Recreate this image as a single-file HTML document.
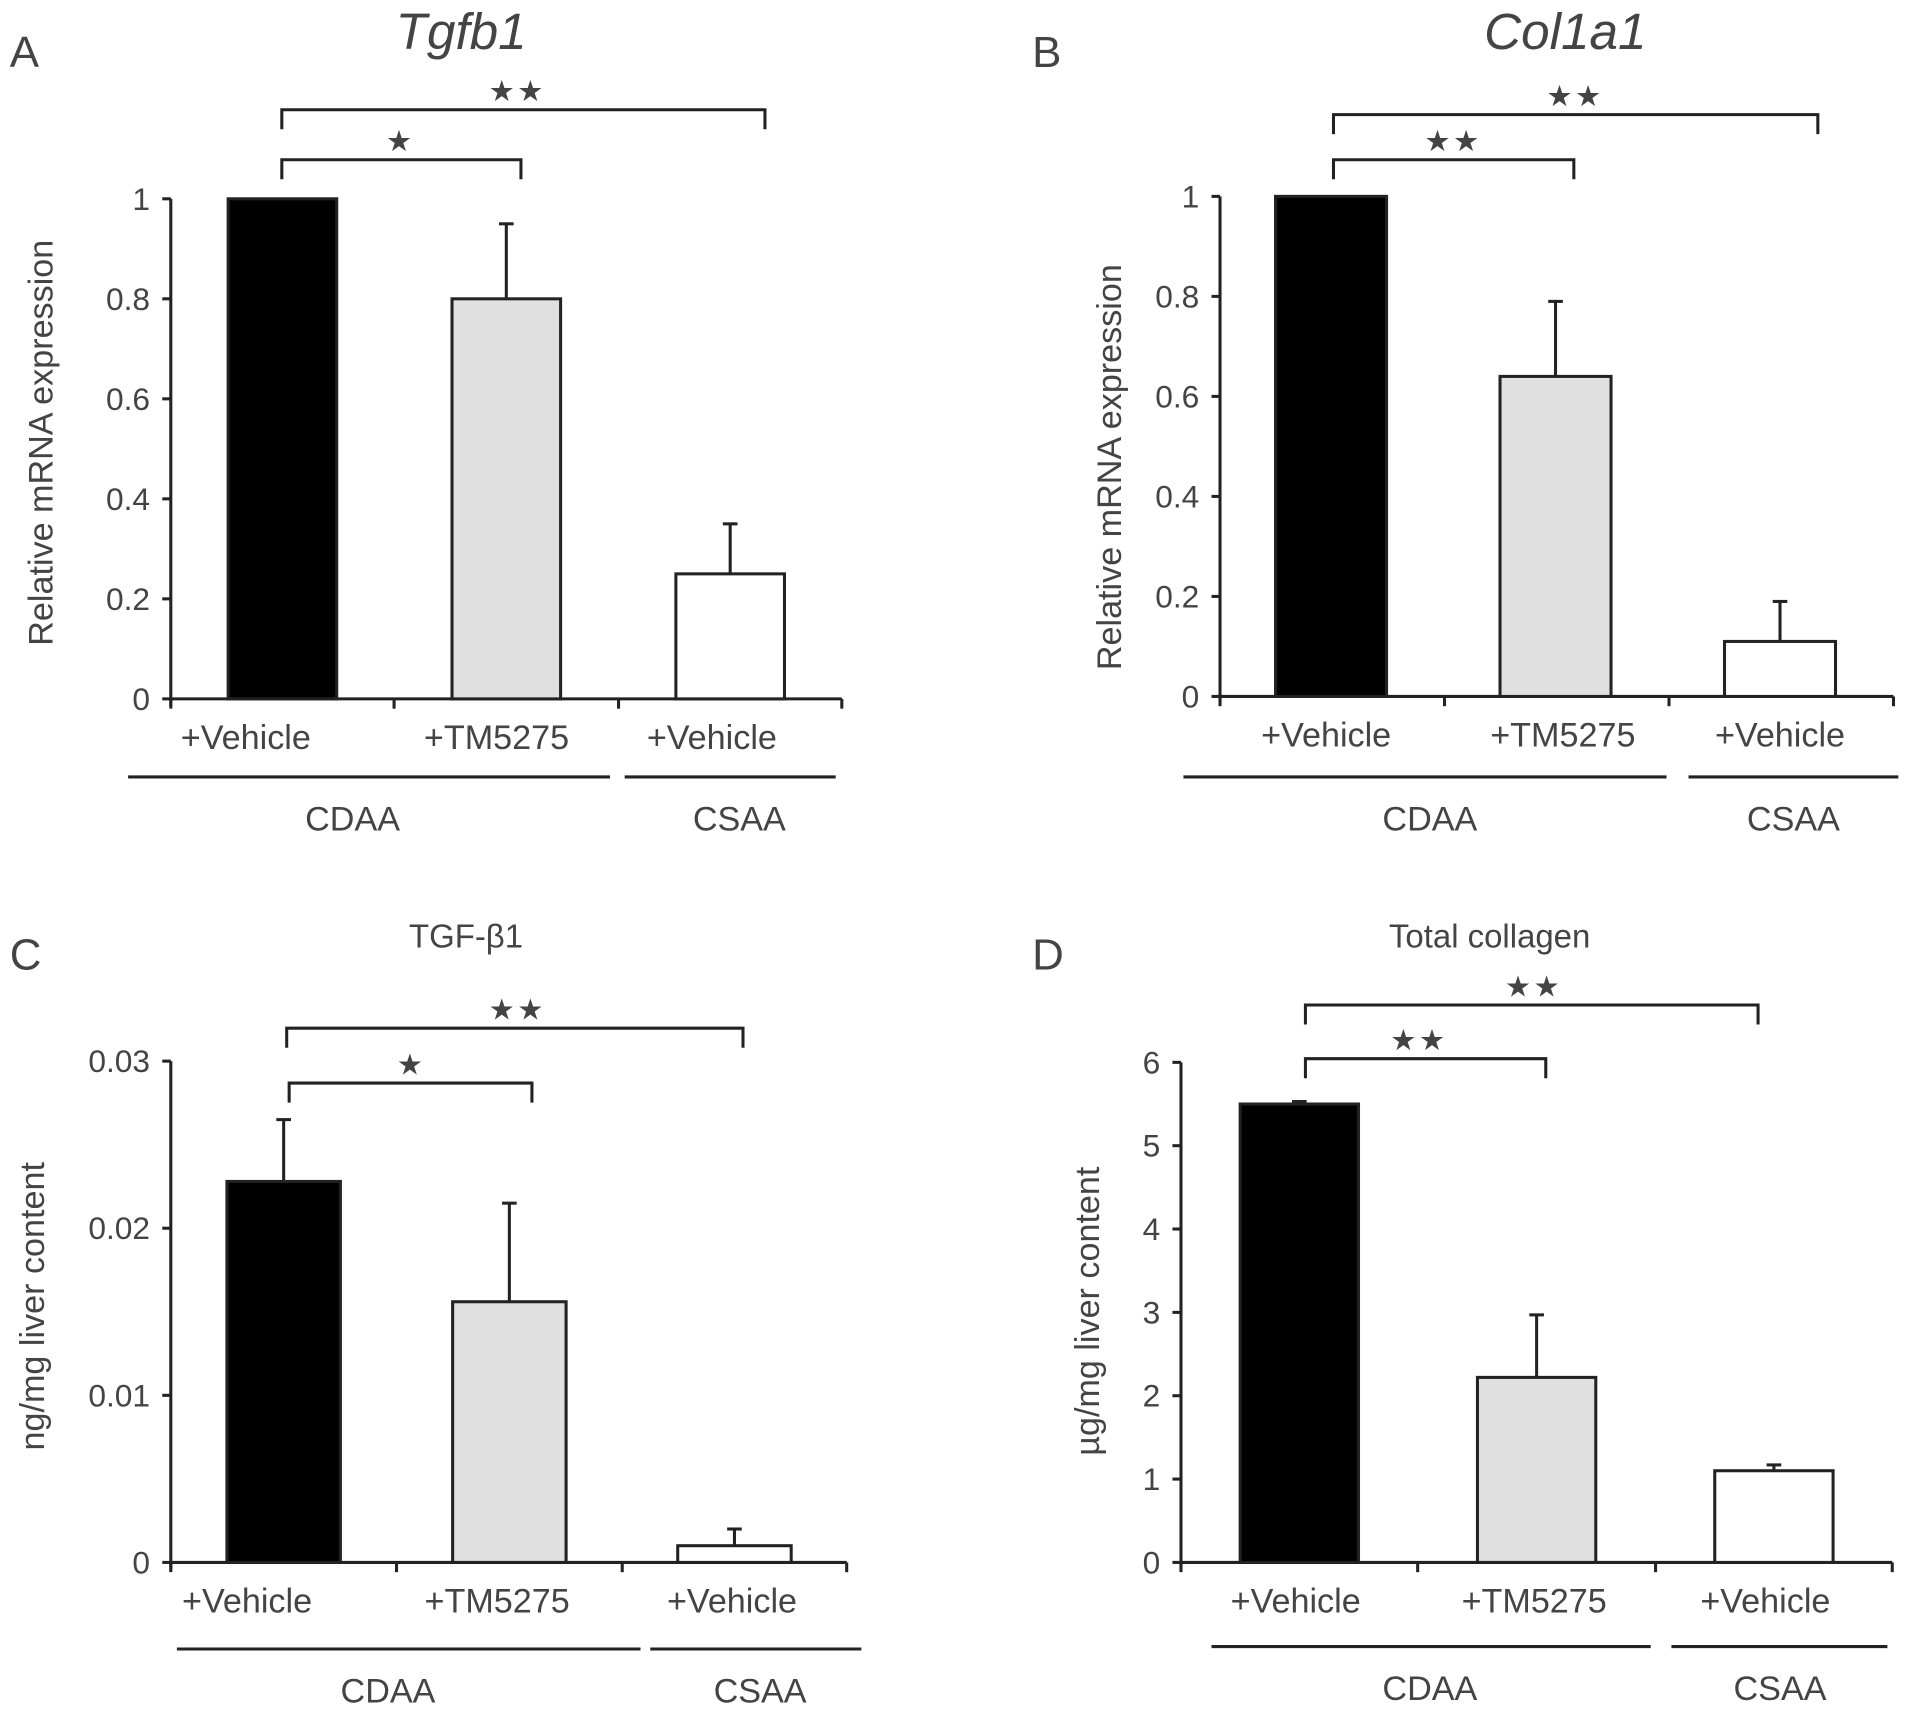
<!DOCTYPE html>
<html><head><meta charset="utf-8"><style>
html,body{margin:0;padding:0;background:#fff;}
svg{display:block;}
text{font-family:"Liberation Sans","DejaVu Sans",sans-serif;fill:#444;}
</style></head><body>
<svg id="fig" width="1913" height="1710" viewBox="0 0 1568 1402" preserveAspectRatio="none" xmlns="http://www.w3.org/2000/svg"></svg>
<script>
// Data
const categories = ["+Vehicle", "+TM5275", "+Vehicle"];
const tgfb1Values = [1, 0.8, 0.25];
const tgfb1Errors = [0, 0.15, 0.10];
const col1a1Values = [1, 0.64, 0.11];
const col1a1Errors = [0, 0.15, 0.08];
const tgfProteinValues = [0.0228, 0.0156, 0.001];
const tgfProteinErrors = [0.0037, 0.0059, 0.001];
const collagenValues = [5.5, 2.22, 1.1];
const collagenErrors = [0.03, 0.75, 0.07];
const tgfb1Ticks = ["0", "0.2", "0.4", "0.6", "0.8", "1"];
const col1a1Ticks = ["0", "0.2", "0.4", "0.6", "0.8", "1"];
const tgfProteinTicks = ["0", "0.01", "0.02", "0.03"];
const collagenTicks = ["0", "1", "2", "3", "4", "5", "6"];

const NS = "http://www.w3.org/2000/svg";
const svg = document.getElementById('fig');
function mk(tag, attrs, parent, txt) {
  const e = document.createElementNS(NS, tag);
  for (const k in attrs) e.setAttribute(k, attrs[k]);
  if (txt !== undefined) e.textContent = txt;
  (parent || svg).appendChild(e);
  return e;
}
const fills = ["#000", "#e0e0e0", "#fff"];

function panel(p) {
  const g = mk('g', {});
  
  
  const maxV = parseFloat(p.ticks[p.ticks.length - 1]);
  const y = v => p.y0 - (v / maxV) * (p.y0 - p.yTop);
  const xs = p.xEdges;
  let t = mk('text', {x: p.letterX, y: p.letterY, 'font-size': 36, fill: '#222'}, g, p.letter);
  
  
  t = mk('text', {x: p.titleX, y: p.titleY, 'font-size': p.titleSize, 'text-anchor': 'middle', 'font-style': p.italic ? 'italic' : 'normal', fill: '#333'}, g, p.title);
  
  
  let a = mk('line', {x1: xs[0], y1: p.yTop, x2: xs[0], y2: p.y0 + 6, stroke: '#222', 'stroke-width': 2.5}, g);
  
  
  p.ticks.forEach(tk => {
    const yy = y(parseFloat(tk));
    mk('line', {x1: xs[0] - 7, y1: yy, x2: xs[0], y2: yy, stroke: '#222', 'stroke-width': 2.5}, g);
    const tl = mk('text', {x: xs[0] - 17, y: yy + 9, 'font-size': 26, 'text-anchor': 'end'}, g, tk);
    
    
  });
  const yl = mk('text', {x: 0, y: 0, 'font-size': 28, 'text-anchor': 'middle', transform: `translate(${p.ylabX},${p.ylabY}) rotate(-90)`}, g, p.ylabel);
  
  
  a = mk('line', {x1: xs[0], y1: p.y0, x2: xs[3], y2: p.y0, stroke: '#222', 'stroke-width': 2.5}, g);
  
  
  xs.forEach(xx => mk('line', {x1: xx, y1: p.y0, x2: xx, y2: p.y0 + 8, stroke: '#222', 'stroke-width': 2.5}, g));
  p.values.forEach((v, i) => {
    const cx = (xs[i] + xs[i + 1]) / 2 + p.barShift;
    const w = p.barW;
    const top = y(v);
    const errTop = y(v + p.errors[i]);
    if (p.errors[i] > 0) {
      const el = mk('line', {x1: cx, y1: top, x2: cx, y2: errTop, stroke: '#222', 'stroke-width': 2.5}, g);
      
      
      mk('line', {x1: cx - 6, y1: errTop, x2: cx + 6, y2: errTop, stroke: '#222', 'stroke-width': 2.5}, g);
    }
    const r = mk('rect', {x: cx - w / 2, y: top, width: w, height: p.y0 - top, fill: fills[i], stroke: '#222', 'stroke-width': 2.5}, g);
    
    
    const cl = mk('text', {x: cx + p.labShift[i], y: p.y0 + 41, 'font-size': 28, 'text-anchor': 'middle'}, g, categories[i]);
    
    
  });
  p.groups.forEach(gr => {
    const l = mk('line', {x1: gr[0], y1: p.groupY, x2: gr[1], y2: p.groupY, stroke: '#222', 'stroke-width': 2.5}, g);
    
    
    const gt = mk('text', {x: gr[2], y: p.groupY + 44, 'font-size': 28, 'text-anchor': 'middle'}, g, gr[3]);
    
    
  });
  p.brackets.forEach(b => {
    const pl = mk('polyline', {points: `${b[0]},${b[2] + 16} ${b[0]},${b[2]} ${b[1]},${b[2]} ${b[1]},${b[2] + 16}`, fill: 'none', stroke: '#222', 'stroke-width': 2.5}, g);
    
    
    const st = mk('text', {x: b[4], y: b[2] - 7, 'font-size': 24, 'text-anchor': 'middle', fill: '#222', 'letter-spacing': 2}, g, b[3].replace(/\*/g, '★'));
    
    
  });
}

panel({id: 'tgfb1-mrna', letter: 'A', letterX: 8, letterY: 55, title: 'Tgfb1', titleX: 378, titleY: 40, titleSize: 42, italic: true,
  ticks: tgfb1Ticks, values: tgfb1Values, errors: tgfb1Errors, y0: 573, yTop: 163, xEdges: [140, 323, 507, 690],
  barW: 89, barShift: 0, labShift: [-30, -8, -15], ylabel: 'Relative mRNA expression', ylabX: 43, ylabY: 363,
  groupY: 637, groups: [[105, 500, 289, 'CDAA'], [512, 685, 606, 'CSAA']],
  brackets: [[231, 627, 90, '**', 424], [231, 427, 131, '*', 328]]});
panel({id: 'col1a1-mrna', letter: 'B', letterX: 846, letterY: 55, title: 'Col1a1', titleX: 1283, titleY: 40, titleSize: 42, italic: true,
  ticks: col1a1Ticks, values: col1a1Values, errors: col1a1Errors, y0: 571, yTop: 161, xEdges: [1000, 1184, 1368, 1552],
  barW: 91, barShift: -1, labShift: [-4, 6, 0], ylabel: 'Relative mRNA expression', ylabX: 919, ylabY: 383,
  groupY: 637, groups: [[970, 1366, 1172, 'CDAA'], [1384, 1556, 1470, 'CSAA']],
  brackets: [[1093, 1490, 94, '**', 1291], [1093, 1290, 131, '**', 1191]]});
panel({id: 'tgf-protein', letter: 'C', letterX: 8, letterY: 795, title: 'TGF-β1', titleX: 382, titleY: 777, titleSize: 27, italic: false,
  ticks: tgfProteinTicks, values: tgfProteinValues, errors: tgfProteinErrors, y0: 1281, yTop: 870, xEdges: [140, 325, 510, 694],
  barW: 93, barShift: 0, labShift: [-30, -10, -2], ylabel: 'ng/mg liver content', ylabX: 36, ylabY: 1071,
  groupY: 1352, groups: [[145, 525, 318, 'CDAA'], [533, 706, 623, 'CSAA']],
  brackets: [[235, 609, 843, '**', 424], [237, 436, 888, '*', 337]]});
panel({id: 'total-collagen', letter: 'D', letterX: 846, letterY: 795, title: 'Total collagen', titleX: 1221, titleY: 777, titleSize: 27, italic: false,
  ticks: collagenTicks, values: collagenValues, errors: collagenErrors, y0: 1281, yTop: 871, xEdges: [968, 1162, 1357, 1551],
  barW: 97, barShift: 0, labShift: [-3, -2, -7], ylabel: 'µg/mg liver content', ylabX: 901, ylabY: 1075,
  groupY: 1350, groups: [[993, 1353, 1172, 'CDAA'], [1370, 1547, 1459, 'CSAA']],
  brackets: [[1070, 1441, 824, '**', 1257], [1070, 1267, 868, '**', 1163]]});
</script>
</body></html>
